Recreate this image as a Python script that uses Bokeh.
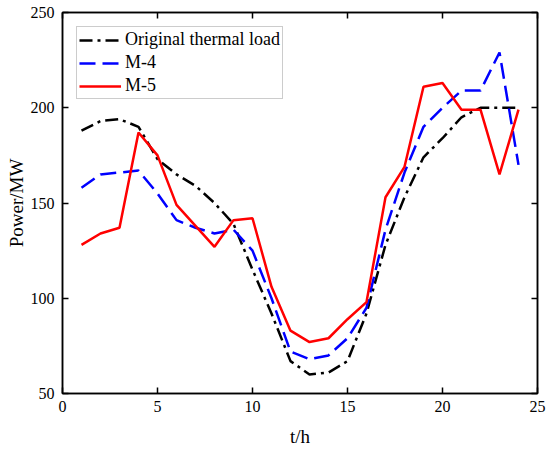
from bokeh.plotting import figure
from bokeh.models import Range1d, LinearAxis, FixedTicker, Legend, LegendItem
from bokeh.embed import file_html
from bokeh.resources import INLINE

hours = list(range(1, 25))
original_load = [188, 193, 194, 190, 173, 165, 159, 150, 139, 115, 92, 67,
                 60, 61, 67, 92, 128, 153, 174, 184, 195, 200, 200, 200]
m4_load = [158, 165, 166, 167, 155, 141, 137, 134, 136, 125, 100, 72,
           68, 70, 79, 95, 136, 166, 190, 200, 209, 209, 229, 170]
m5_load = [128, 134, 137, 187, 175, 149, 138, 127, 141, 142, 106, 83,
           77, 79, 89, 98, 153, 169, 211, 213, 199, 199, 165, 199]
x_ticks = [0, 5, 10, 15, 20, 25]
y_ticks = [50, 100, 150, 200, 250]
series_names = ["Original thermal load", "M-4", "M-5"]

FONT = "Liberation Serif"

p = figure(width=550, height=452, output_backend="svg", toolbar_location=None,
           x_range=Range1d(0, 25), y_range=Range1d(50, 250),
           min_border_left=62, min_border_right=13, min_border_top=12,
           min_border_bottom=59, x_axis_label="t/h", y_axis_label="Power/MW")
p.background_fill_color = "white"
p.border_fill_color = "white"
p.grid.visible = False
p.outline_line_color = "black"
p.outline_line_width = 1.5

r0 = p.line(hours, original_load, line_color="black", line_width=2.5, line_dash="13 5 3 5")
r1 = p.line(hours, m4_load, line_color="#0000FF", line_width=2.5, line_dash="16 7")
r2 = p.line(hours, m5_load, line_color="#FF0000", line_width=2.5)

for ax, ticks in ((p.xaxis[0], x_ticks), (p.yaxis[0], y_ticks)):
    ax.ticker = FixedTicker(ticks=ticks)
    ax.major_tick_in = 6
    ax.major_tick_out = 0
    ax.minor_tick_line_color = None
    ax.axis_line_width = 1.5
    ax.major_tick_line_width = 1.5
    ax.major_label_text_font = FONT
    ax.major_label_text_font_size = "16px"
    ax.major_label_text_color = "black"
    ax.axis_label_text_font = FONT
    ax.axis_label_text_font_size = "19px"
    ax.axis_label_text_font_style = "normal"
    ax.axis_label_text_color = "black"

p.xaxis[0].major_label_standoff = 7
p.xaxis[0].axis_label_standoff = 11
p.yaxis[0].major_label_standoff = 8
p.yaxis[0].axis_label_standoff = 1

for side, ticks in (("above", x_ticks), ("right", y_ticks)):
    ax = LinearAxis(ticker=FixedTicker(ticks=ticks))
    ax.major_tick_in = 6
    ax.major_tick_out = 0
    ax.minor_tick_line_color = None
    ax.axis_line_width = 1.5
    ax.major_tick_line_width = 1.5
    ax.major_label_text_font_size = "1px"
    ax.major_label_text_color = None
    ax.major_label_standoff = 0
    p.add_layout(ax, side)

legend = Legend(items=[LegendItem(label=series_names[0], renderers=[r0]),
                       LegendItem(label=series_names[1], renderers=[r1]),
                       LegendItem(label=series_names[2], renderers=[r2])],
                location="top_left")
legend.margin = 14
legend.padding = 2
legend.spacing = 2
legend.glyph_width = 42
legend.glyph_height = 20
legend.label_height = 20
legend.label_standoff = 4
legend.label_text_font = FONT
legend.label_text_font_size = "18px"
legend.label_text_color = "black"
legend.border_line_color = "#999999"
legend.border_line_width = 1
legend.background_fill_color = "white"
legend.background_fill_alpha = 1.0
p.add_layout(legend, "center")

open("out.html", "w").write(file_html(p, INLINE))
